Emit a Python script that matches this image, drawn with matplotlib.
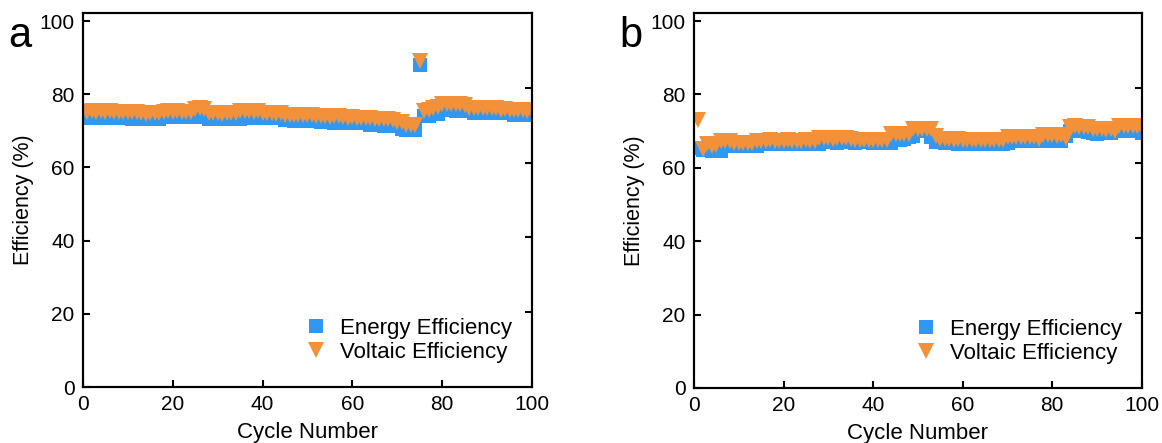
import numpy as np
import matplotlib
matplotlib.use('Agg')
import matplotlib.pyplot as plt

plt.rcParams['font.family'] = ['Liberation Sans', 'DejaVu Sans']

cycles = np.arange(1, 101)

# cell A
energy_a = [
    73.5, 73.6, 73.5, 73.4, 73.6, 73.5, 73.5, 73.4, 73.6, 73.5,
    73.2, 73.1, 73.3, 73.2, 73.1, 73.2, 73.3, 73.9, 73.8, 74.0,
    73.9, 73.8, 74.0, 73.9, 73.8, 74.8, 74.7, 73.2, 73.3, 73.1,
    73.2, 73.3, 73.2, 73.1, 73.3, 73.7, 73.8, 73.6, 73.7, 73.8,
    73.6, 73.7, 73.6, 73.5, 72.9, 73.0, 72.8, 72.9, 73.0, 72.8,
    72.9, 72.8, 72.4, 72.3, 72.4, 72.2, 72.3, 72.4, 72.2, 72.3,
    72.2, 72.1, 72.2, 71.6, 71.5, 71.6, 71.4, 71.5, 71.3, 71.2,
    70.4, 70.3, 70.2, 70.3, 88.0, 74.0, 74.1, 74.6, 74.7, 75.6,
    75.7, 75.6, 75.5, 75.6, 75.7, 75.5, 75.0, 75.1, 74.9, 75.0,
    75.1, 74.9, 75.0, 74.9, 74.8, 74.4, 74.3, 74.4, 74.2, 74.3,
]
voltaic_a = [
    75.2, 75.3, 75.2, 75.3, 75.2, 75.3, 75.2, 75.1, 75.2, 75.1,
    75.2, 75.1, 74.8, 74.7, 74.8, 74.9, 74.8, 75.2, 75.3, 75.2,
    75.3, 75.2, 75.1, 75.2, 76.0, 76.1, 75.9, 74.8, 74.9, 74.8,
    74.7, 74.8, 74.9, 74.8, 75.3, 75.4, 75.3, 75.2, 75.3, 74.8,
    74.9, 74.8, 74.7, 74.8, 74.3, 74.4, 74.3, 74.2, 74.3, 74.4,
    74.3, 74.0, 74.1, 74.0, 73.9, 74.0, 74.1, 73.9, 73.6, 73.7,
    73.6, 73.5, 73.6, 73.5, 73.2, 73.3, 73.1, 73.2, 73.0, 72.4,
    72.3, 71.7, 71.6, 71.7, 89.0, 75.5, 75.6, 76.3, 76.4, 77.3,
    77.4, 77.3, 77.2, 77.3, 77.1, 76.2, 76.3, 76.2, 76.1, 76.2,
    76.2, 76.1, 75.8, 75.9, 75.8, 75.7, 75.8, 75.6, 75.5, 75.5,
]

# cell B
energy_b = [
    65.5, 64.8, 64.8, 64.6, 64.5, 64.6, 66.0, 65.9, 66.0, 66.1,
    65.9, 66.0, 66.1, 66.0, 66.6, 66.5, 66.6, 66.7, 66.6, 66.5,
    66.6, 66.7, 66.6, 66.5, 66.6, 66.7, 66.6, 66.5, 67.0, 67.1,
    67.0, 66.9, 67.0, 67.1, 67.0, 66.9, 67.0, 67.1, 67.0, 66.9,
    66.8, 66.7, 66.8, 66.9, 67.8, 67.7, 67.9, 68.5, 68.6, 70.0,
    70.1, 69.9, 68.3, 67.0, 67.1, 66.9, 67.0, 67.1, 66.6, 66.5,
    66.6, 66.7, 66.6, 66.5, 66.6, 66.7, 66.6, 66.5, 66.6, 66.7,
    67.3, 67.2, 67.3, 67.4, 67.3, 67.2, 67.3, 67.4, 67.3, 67.2,
    67.3, 67.4, 68.6, 69.9, 70.0, 69.9, 70.0, 69.8, 69.4, 69.3,
    69.4, 69.5, 69.4, 69.9, 70.0, 69.9, 70.1, 69.9, 70.0, 69.5,
]
voltaic_b = [
    73.0, 65.0, 66.5, 66.0, 66.1, 67.2, 67.3, 67.2, 66.8, 66.9,
    66.8, 66.7, 66.8, 67.4, 67.3, 67.4, 67.5, 67.4, 67.3, 67.4,
    67.5, 67.4, 67.3, 67.4, 67.5, 67.4, 67.3, 68.0, 68.1, 68.0,
    67.9, 68.0, 68.1, 68.0, 67.9, 67.6, 67.7, 67.6, 67.5, 67.6,
    67.7, 67.6, 67.5, 69.2, 69.3, 69.2, 69.1, 69.2, 70.6, 70.7,
    70.6, 70.5, 70.6, 68.8, 67.8, 67.9, 67.8, 67.7, 67.8, 67.6,
    67.7, 67.6, 67.5, 67.6, 67.7, 67.6, 67.5, 67.6, 67.7, 68.4,
    68.5, 68.4, 68.3, 68.4, 68.5, 68.4, 67.8, 68.9, 69.0, 68.9,
    68.8, 68.9, 68.2, 71.2, 71.3, 71.2, 71.1, 71.2, 70.5, 70.6,
    70.5, 70.4, 70.5, 70.0, 71.4, 71.5, 71.4, 71.3, 71.4, 70.8,
]

panels = [
    ('a', energy_a, voltaic_a, [0.0714, 0.1264, 0.3864, 0.8443]),
    ('b', energy_b, voltaic_b, [0.5972, 0.1242, 0.3855, 0.8465]),
]

blue = '#2f98f2'
orange = '#f2913a'

fig = plt.figure(figsize=(11.62, 4.43), dpi=100)

for letter, ee, ve, rect in panels:
    ax = fig.add_axes(rect)
    ax.plot(cycles, ee, 's', color=blue, markersize=10, markeredgewidth=0,
            label='Energy Efficiency')
    ax.plot(cycles, ve, 'v', color=orange, markersize=11.5, markeredgewidth=0,
            label='Voltaic Efficiency')

    ax.set_xlim(0, 100)
    ax.set_ylim(0, 102.2)
    ax.set_xticks(np.arange(0, 101, 20))
    ax.set_yticks(np.arange(0, 101, 20))
    ax.tick_params(direction='in', length=5, width=1.5, labelsize=15, pad=6)
    for s in ax.spines.values():
        s.set_linewidth(1.5)

    ax.set_xlabel('Cycle Number', fontsize=16, labelpad=5.5)
    ax.set_ylabel('Efficiency (%)', fontsize=15.5, labelpad=4)

    # right-hand ticks without labels
    ax2 = ax.twinx()
    ax2.set_ylim(0, 100)
    ax2.set_yticks(np.arange(20, 81, 20))
    ax2.tick_params(direction='in', length=5, width=1.5, labelright=False)
    for s in ax2.spines.values():
        s.set_linewidth(1.5)

    ax.legend(loc='lower right', bbox_to_anchor=(0.976, 0.04), frameon=False,
              fontsize=16, handletextpad=0.6, labelspacing=0.15,
              handlelength=1.0, borderaxespad=0)

    fig.text(rect[0] - 0.064, 0.895, letter, fontsize=30, va='baseline')

fig.savefig('out.png', dpi=100)
